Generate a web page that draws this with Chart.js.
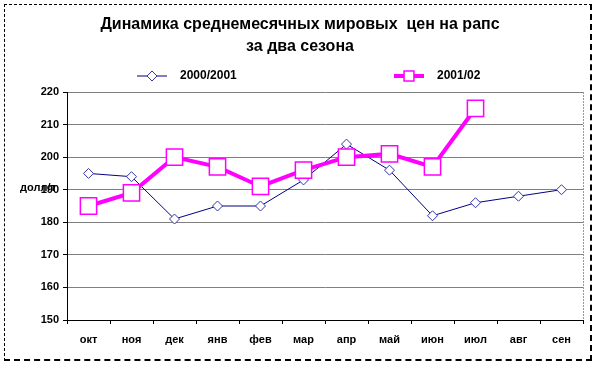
<!DOCTYPE html>
<html>
<head>
<meta charset="utf-8">
<script src="https://cdn.jsdelivr.net/npm/chart.js@4"></script>
<style>
  body { margin: 0; background: #fff; }
  #frame {
    position: absolute; left: 4px; top: 4px; width: 585px; height: 354px;
    border: 1px dashed #000; border-right-width: 2px; border-bottom-width: 2px;
  }
  #wrap { position: absolute; left: 0; top: 0; }
</style>
</head>
<body>
<div id="frame"></div>
<div id="wrap"><canvas id="priceChart" width="597" height="367"></canvas></div>
<script>
// chart data
const months = ['окт', 'ноя', 'дек', 'янв', 'фев', 'мар', 'апр', 'май', 'июн', 'июл', 'авг', 'сен'];
const season2000 = [195, 194, 181, 185, 185, 193, 204, 196, 182, 186, 188, 190];
const season2001 = [185, 189, 200, 197, 191, 196, 200, 201, 197, 215, null, null];
const seriesNames = ['2000/2001', '2001/02'];
const titleLines = ['Динамика среднемесячных мировых  цен на рапс', 'за два сезона'];
const yTitle = 'долл/т';

const FONT = "'Liberation Sans', Arial, sans-serif";

// title, legend, y title and right border drawn by hand
const decorPlugin = {
    id: 'decor',
    beforeDatasetsDraw(chart) {
        const ctx = chart.ctx;
        const a = chart.chartArea;
        ctx.save();
        ctx.strokeStyle = '#999';
        ctx.setLineDash([2, 1]);
        ctx.lineWidth = 1;
        ctx.beginPath();
        ctx.moveTo(a.right + 0.5, a.top);
        ctx.lineTo(a.right + 0.5, a.bottom);
        ctx.stroke();
        ctx.restore();
    },
    afterDraw(chart) {
        const ctx = chart.ctx;
        ctx.save();
        ctx.fillStyle = '#000';
        ctx.textAlign = 'center';
        ctx.textBaseline = 'middle';
        ctx.font = 'bold 16px ' + FONT;
        ctx.fillText(titleLines[0], 300, 25);
        ctx.fillText(titleLines[1], 300, 47);

        // y axis title, horizontal
        ctx.font = 'bold 11px ' + FONT;
        ctx.textAlign = 'left';
        ctx.fillText(yTitle, 20, 188);

        // legend
        const items = [
            { x: 152, text: seriesNames[0], ds: chart.data.datasets[1] },
            { x: 409, text: seriesNames[1], ds: chart.data.datasets[0] }
        ];
        const ly = 76;
        items.forEach(function(it) {
            const ds = it.ds;
            ctx.strokeStyle = ds.borderColor;
            ctx.lineWidth = ds.borderWidth;
            ctx.setLineDash([]);
            ctx.beginPath();
            ctx.moveTo(it.x - 15, ly);
            ctx.lineTo(it.x + 15, ly);
            ctx.stroke();
            const r = ds.pointStyle === 'rect' ? 7 : ds.pointRadius;
            ctx.fillStyle = '#fff';
            ctx.strokeStyle = ds.pointBorderColor;
            ctx.lineWidth = ds.pointBorderWidth;
            Chart.helpers.drawPoint(ctx, {
                pointStyle: ds.pointStyle,
                radius: r,
                borderWidth: ds.pointBorderWidth
            }, it.x, ly);
            ctx.fillStyle = '#000';
            ctx.font = 'bold 12px ' + FONT;
            ctx.textAlign = 'left';
            ctx.fillText(it.text, it.x + 28, ly);
        });
        ctx.restore();
    }
};

document.addEventListener("DOMContentLoaded", function() {
    const ctx = document.getElementById('priceChart').getContext('2d');

    new Chart(ctx, {
        type: 'line',
        data: {
            labels: months,
            datasets: [{
                label: seriesNames[1],
                data: season2001,
                borderColor: '#ff00ff',
                borderWidth: 4,
                pointStyle: 'rect',
                pointRadius: 11.5,
                pointBackgroundColor: '#fff',
                pointBorderColor: '#ff00ff',
                pointBorderWidth: 1.5,
                tension: 0,
                order: 0
            }, {
                label: seriesNames[0],
                data: season2000,
                borderColor: '#000080',
                borderWidth: 1,
                pointStyle: 'rectRot',
                pointRadius: 5,
                pointBackgroundColor: '#fff',
                pointBorderColor: '#3333aa',
                pointBorderWidth: 1,
                tension: 0,
                order: 1
            }]
        },
        options: {
            responsive: false,
            animation: false,
            layout: { padding: { top: 92, right: 14, left: 0, bottom: 0 } },
            plugins: {
                legend: { display: false },
                title: { display: false },
                tooltip: { enabled: false }
            },
            scales: {
                x: {
                    offset: true,
                    grid: {
                        offset: true,
                        drawOnChartArea: false,
                        drawTicks: true,
                        tickLength: 4,
                        tickColor: '#000'
                    },
                    border: { color: '#000', width: 1 },
                    ticks: {
                        color: '#000',
                        padding: 9,
                        font: { family: FONT, size: 11, weight: 'bold' }
                    },
                    afterFit: function(scale) { scale.height = 47; }
                },
                y: {
                    min: 150,
                    max: 220,
                    ticks: {
                        stepSize: 10,
                        color: '#000',
                        padding: 4,
                        font: { family: FONT, size: 11, weight: 'bold' }
                    },
                    grid: {
                        color: '#808080',
                        tickLength: 4,
                        tickColor: '#000'
                    },
                    border: { color: '#000', width: 1 },
                    afterFit: function(scale) { scale.width = 67; }
                }
            }
        },
        plugins: [decorPlugin]
    });
});
</script>
</body>
</html>
